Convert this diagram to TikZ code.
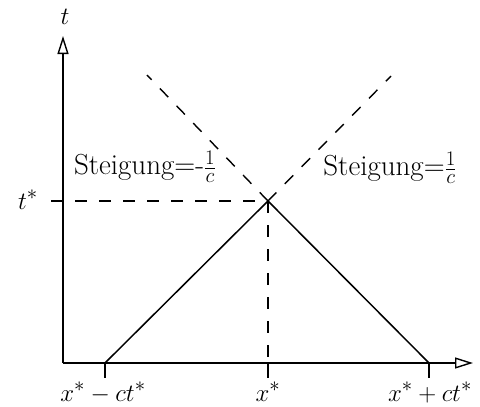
\documentclass[tikz,border=0pt]{standalone}
\usetikzlibrary{arrows.meta}
\begin{document}
\begin{tikzpicture}[x=1pt,y=-1pt, font=\fontsize{29}{34}\selectfont,
 axis/.style={line width=1.2pt, -{Triangle[open,length=18pt,width=11pt,line width=1.4pt]}},
 solidline/.style={line width=1.5pt},
 dashline/.style={line width=1.4pt, dash pattern=on 12pt off 12pt},
 tickline/.style={line width=1.2pt},
 lbl/.style={inner sep=0pt}]
\useasboundingbox (0,0) rectangle (480,407);
\coordinate (O) at (63,363);
\coordinate (P) at (268,201);
\coordinate (A) at (105,363);
\coordinate (B) at (429,363);
\coordinate (Px) at (268,363);
\coordinate (Ttick) at (51,201);
\coordinate (Ytop) at (63,36);
\coordinate (Xend) at (473,363);
\coordinate (Ld) at (147,75);
\coordinate (Rd) at (391,76);
\draw[axis] (O) -- (Ytop);
\draw[axis] (O) -- (Xend);
\draw[solidline] (A) -- (P) -- (B);
\draw[dashline] (P) -- (Ld);
\draw[dashline] (P) -- (Rd);
\draw[dashline] (Ttick) -- (P);
\draw[dashline] (P) -- (Px);
\draw[tickline] (A) -- ++(0,15);
\draw[tickline] (Px) -- ++(0,15);
\draw[tickline] (B) -- ++(0,15);
\node[lbl, anchor=base] (tl) at (65,24) {$t$};
\node[lbl, anchor=base] (tsl) at (28,209) {$t^*$};
\node[lbl, anchor=base] (xl1) at (103,401) {$x^*-ct^*$};
\node[lbl, anchor=base] (xl2) at (268,401) {$x^*$};
\node[lbl, anchor=base] (xl3) at (430,401) {$x^*+ct^*$};
\node[lbl] (sl) at (145,167) {Steigung=-$\frac{1}{c}$};
\node[lbl] (sr) at (390,168) {Steigung=$\frac{1}{c}$};
\end{tikzpicture}
\end{document}
